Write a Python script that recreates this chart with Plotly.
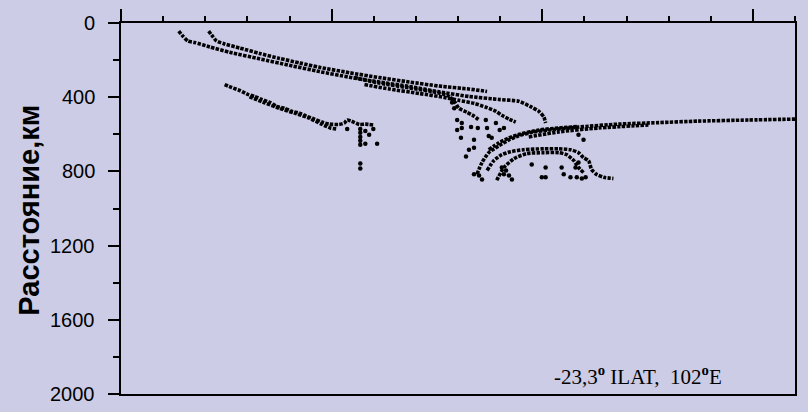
import plotly.graph_objects as go

# Curve traces (x in unlabelled axis units 0..16, depth in km)
curve_a_x = [1.37, 1.47, 1.59, 1.75, 2.11, 2.58, 3.29, 4.00, 4.71, 5.42, 6.13, 6.84, 7.55, 8.26, 8.97, 9.44, 9.75, 9.92, 10.04, 10.08]
curve_a_y = [44, 71, 97, 105, 129, 158, 193, 228, 262, 292, 318, 342, 371, 396, 412, 422, 454, 476, 508, 539]

curve_b_x = [2.08, 2.18, 2.27, 2.46, 2.82, 3.29, 3.76, 4.24, 4.71, 5.42, 6.13, 6.84, 7.55, 8.26, 8.69]
curve_b_y = [44, 73, 97, 113, 135, 164, 191, 215, 239, 268, 294, 318, 340, 356, 369]

curve_c_x = [5.54, 6.13, 6.84, 7.55, 7.79, 7.93, 8.02, 8.21, 8.38, 8.50]
curve_c_y = [294, 324, 350, 377, 396, 428, 460, 481, 502, 523]

curve_d_x = [5.78, 6.37, 7.08, 7.67, 8.02, 8.38, 8.66, 8.90, 9.04, 9.21, 9.37]
curve_d_y = [332, 356, 380, 401, 417, 433, 454, 476, 497, 518, 534]

curve_k_x = [2.46, 2.63, 2.82, 3.01, 3.17, 3.34, 3.53, 3.69, 3.88, 4.05, 4.24, 4.40, 4.59, 4.76, 4.95, 5.18, 5.30, 5.37, 5.47, 5.66, 5.80, 5.99]
curve_k_y = [332, 348, 364, 385, 396, 412, 428, 449, 460, 476, 486, 502, 518, 534, 545, 547, 539, 523, 529, 547, 545, 550]

curve_k2_x = [3.05, 3.41, 3.76, 4.12, 4.47, 4.76, 4.97, 5.11]
curve_k2_y = [398, 430, 460, 486, 513, 545, 566, 571]

curve_r_x = [8.45, 8.57, 8.73, 8.97, 9.21, 9.44, 9.80, 10.15, 10.86, 11.81, 12.76, 13.70, 14.89, 16.0]
curve_r_y = [816, 752, 699, 662, 630, 608, 587, 577, 561, 545, 537, 529, 523, 518]

curve_r2_x = [8.73, 8.97, 9.21, 9.49, 9.92, 10.39, 10.86]
curve_r2_y = [683, 646, 619, 598, 577, 566, 558]

curve_r3_x = [9.68, 10.39, 11.34, 12.52]
curve_r3_y = [614, 587, 566, 550]

curve_h_x = [8.69, 8.85, 9.04, 9.25, 9.56, 10.04, 10.39, 10.67, 10.86, 10.98, 11.10, 11.17, 11.29, 11.46, 11.69]
curve_h_y = [795, 742, 710, 694, 683, 678, 678, 683, 699, 726, 742, 790, 816, 832, 838]

curve_i_x = [8.92, 9.09, 9.33, 9.63, 10.04, 10.39, 10.58, 10.75, 10.86, 10.98]
curve_i_y = [848, 779, 731, 704, 699, 699, 710, 742, 779, 806]

# Isolated dots
dots_x = [5.37, 5.68, 5.68, 5.68, 5.68, 5.68, 5.80, 5.89, 5.99, 6.08, 5.80, 5.68, 5.68,
          7.86, 7.91, 7.98, 8.09, 7.98, 8.09, 8.07, 8.31, 8.47, 8.38, 8.26, 8.38, 8.19,
          8.66, 8.69, 8.73, 8.80, 8.90, 8.99, 9.09, 8.50, 8.38, 8.57, 9.04, 9.14, 9.09,
          9.21, 9.28, 9.99, 10.08, 9.75, 10.08, 10.46, 10.51, 10.67, 10.82, 10.94, 11.03,
          10.86, 10.98, 10.79, 10.86]
dots_y = [571, 571, 592, 614, 635, 656, 582, 603, 571, 651, 651, 757, 784,
          428, 460, 523, 539, 577, 566, 619, 561, 566, 630, 683, 672, 720,
          523, 566, 609, 619, 539, 577, 566, 822, 816, 843, 779, 795, 816,
          822, 843, 832, 832, 763, 779, 779, 816, 832, 832, 838, 832,
          603, 630, 779, 752]

y_ticks = [0, 400, 800, 1200, 1600, 2000]
y_tick_labels = ["0", "400", "800", "1200", "1600", "2000"]
annotation_text = "-23,3<sup><b>o</b></sup> ILAT, &nbsp;102<sup><b>o</b></sup>E"
y_title = "<b>Расстояние,км</b>"

bg = "rgb(204,204,230)"

curves = [
    (curve_a_x, curve_a_y), (curve_b_x, curve_b_y), (curve_c_x, curve_c_y),
    (curve_d_x, curve_d_y), (curve_k_x, curve_k_y), (curve_k2_x, curve_k2_y),
    (curve_r_x, curve_r_y), (curve_r2_x, curve_r2_y), (curve_r3_x, curve_r3_y),
    (curve_h_x, curve_h_y), (curve_i_x, curve_i_y),
]

fig = go.Figure()
for cx, cy in curves:
    fig.add_trace(go.Scatter(x=cx, y=cy, mode="lines",
                             line=dict(color="black", width=3.6, dash="3.4px,1.3px", shape="spline", smoothing=0.6),
                             hoverinfo="skip", showlegend=False))
fig.add_trace(go.Scatter(x=dots_x, y=dots_y, mode="markers",
                         marker=dict(color="black", size=4.5),
                         hoverinfo="skip", showlegend=False))

annotations = [
    dict(text=lab, xref="paper", yref="y", x=-0.0355, y=val, showarrow=False,
         xanchor="right", yanchor="middle", font=dict(size=20, family="Liberation Sans, Arial"))
    for val, lab in zip(y_ticks, y_tick_labels)
]
annotations += [
    dict(text=y_title, xref="paper", yref="paper", x=-0.136, y=0.495, textangle=-90,
         showarrow=False, xanchor="center", yanchor="middle",
         font=dict(size=29, family="Liberation Sans, Arial")),
    dict(text=annotation_text, xref="paper", yref="paper", x=0.767, y=0.050,
         showarrow=False, xanchor="center", yanchor="middle",
         font=dict(size=21, family="Liberation Serif, Times New Roman")),
]

fig.update_layout(
    width=808, height=412,
    margin=dict(l=121, r=11, t=19, b=18),
    paper_bgcolor=bg, plot_bgcolor=bg,
    font=dict(family="Liberation Sans, Arial", color="black"),
    xaxis=dict(range=[0, 16], side="top", showline=True, linecolor="black", linewidth=2,
               mirror=True, ticks="outside", tick0=0, dtick=5, ticklen=12, tickwidth=2,
               tickcolor="black", showticklabels=False, showgrid=False, zeroline=False,
               minor=dict(dtick=1, ticklen=5, tickwidth=2, ticks="outside", tickcolor="black", showgrid=False)),
    yaxis=dict(range=[2000, 0], showline=True, linecolor="black", linewidth=2, mirror=True,
               ticks="outside", tickvals=y_ticks, ticklen=11, tickwidth=2, tickcolor="black",
               showticklabels=False, showgrid=False, zeroline=False,
               minor=dict(dtick=200, ticklen=6, tickwidth=2, ticks="outside", tickcolor="black", showgrid=False)),
    annotations=annotations,
)

fig.write_html("out.html")
